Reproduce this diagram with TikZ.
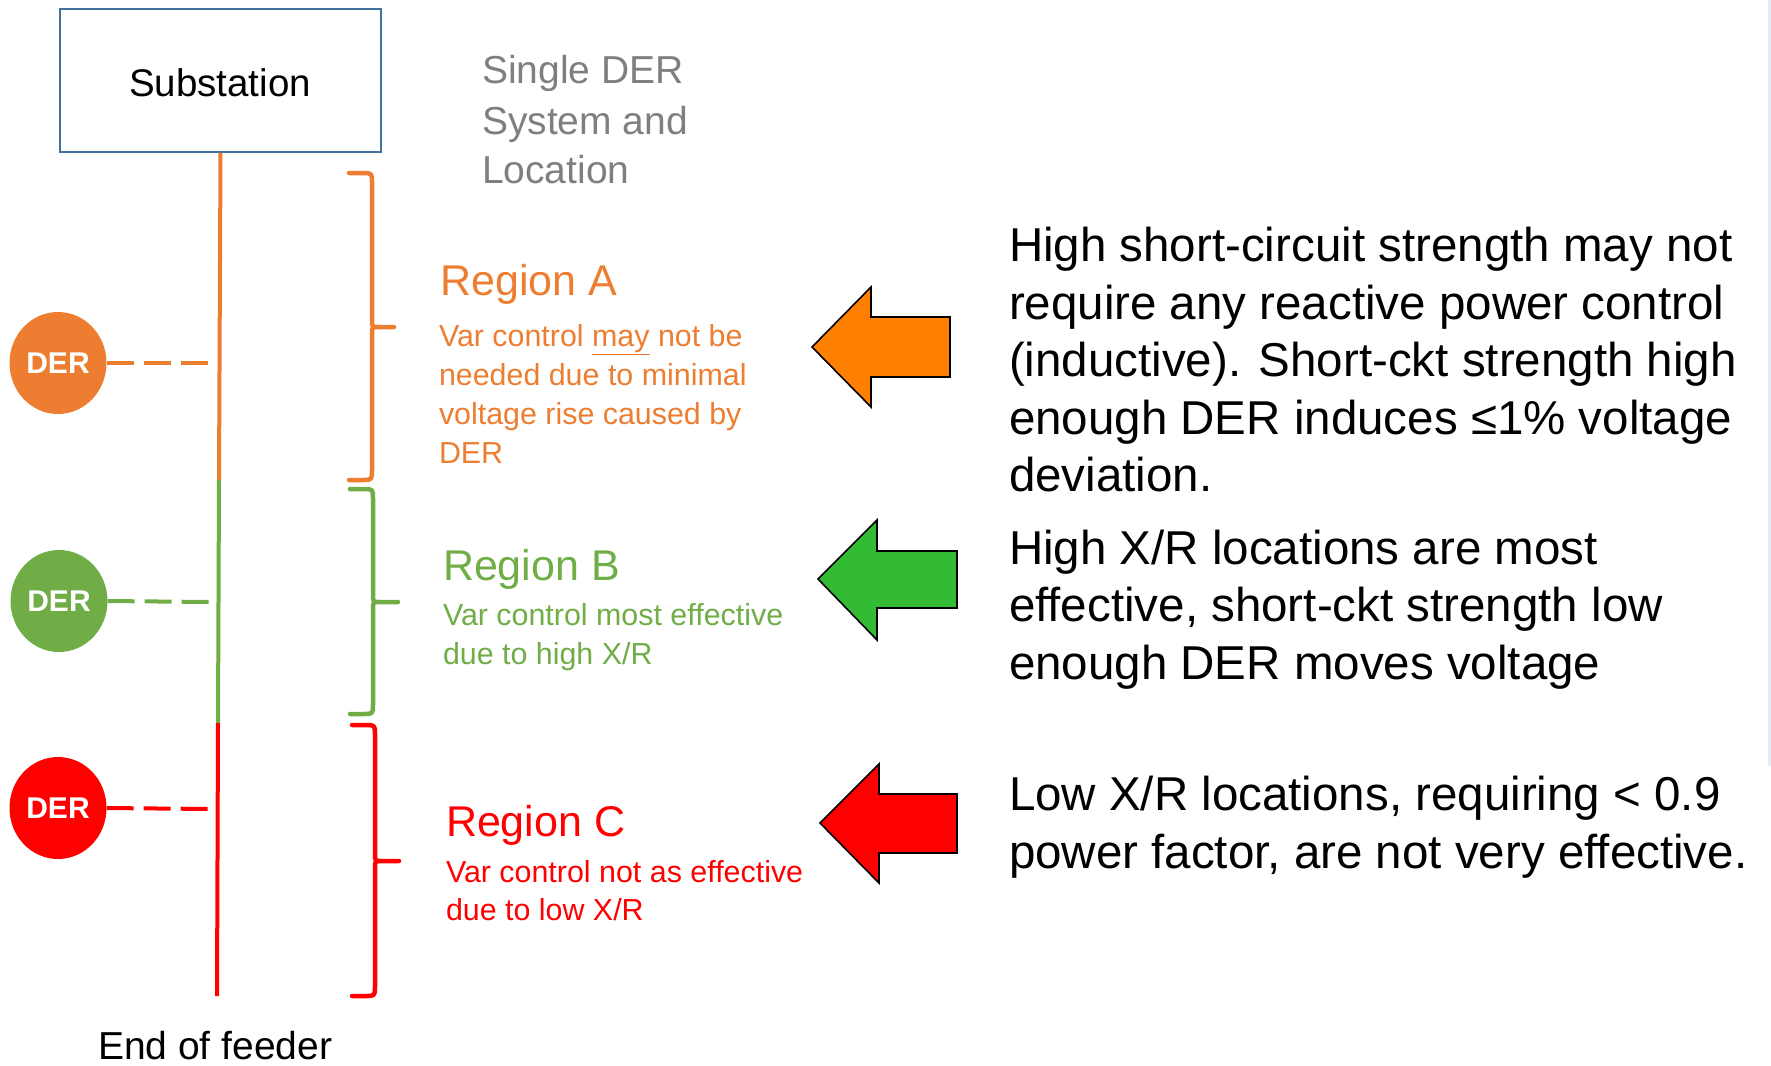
\documentclass[tikz,border=0pt]{standalone}
\usepackage{fontspec}
\setmainfont{Liberation Sans}
\usetikzlibrary{shapes.geometric}
\definecolor{cA}{HTML}{ED7D31}
\definecolor{cB}{HTML}{70AD47}
\definecolor{cC}{HTML}{FF0000}
\definecolor{boxblue}{HTML}{41719C}
\definecolor{graytxt}{HTML}{7F7F7F}
\definecolor{arrA}{HTML}{FF8000}
\definecolor{arrB}{HTML}{33BB33}
\definecolor{arrC}{HTML}{FF0000}
\definecolor{stripc}{HTML}{E4ECF8}
\newcommand{\mybrace}[7]{%
  \draw[bracestyle,#1] (#2,#5) -- (#3-10,#5) .. controls (#3,#5) .. (#3,#5+10)
    -- (#3,#6-7) .. controls (#3,#6) .. (#3+7,#6) -- (#4,#6) -- (#3+7,#6)
    .. controls (#3,#6) .. (#3,#6+7) -- (#3,#7-10) .. controls (#3,#7) .. (#3-10,#7) -- (#2,#7);}
\begin{document}
\begin{tikzpicture}[x=1pt,y=-1pt,
  txt/.style={inner sep=0pt,outer sep=0pt,anchor=base west},
  gtxt/.style={txt,text=graytxt,font=\fontsize{39}{50}\selectfont},
  rtxt/.style={txt,text=black,font=\fontsize{47.5}{57}\selectfont},
  titleA/.style={txt,font=\fontsize{43}{50}\selectfont},
  body/.style={txt,font=\fontsize{30.4}{39}\selectfont},
  der/.style={ellipse,inner sep=0pt,minimum width=97pt,minimum height=102pt,
    text=white,font=\fontsize{30}{31}\selectfont\bfseries},
  feeder/.style={line width=4pt},
  dashline/.style={line width=4pt,dash pattern=on 27pt off 10pt},
  bracestyle/.style={line width=4.5pt,line join=round,line cap=round},
  blockarrow/.style={draw=black,line width=1.6pt,line join=miter}
]
\useasboundingbox (0,0) rectangle (1771,1065);
\fill[stripc] (1768,0) rectangle (1771,766);

% substation
\node[draw=boxblue,line width=1.8pt,minimum width=321pt,minimum height=143pt,inner sep=0pt]
  (sub) at (220.5,80.5) {};
\node[inner sep=0pt,anchor=base,font=\fontsize{38.5}{45}\selectfont] (subt) at (220,96) {Substation};

% feeder
\coordinate (fAB) at (219,480);
\coordinate (fBC) at (218,723);
\coordinate (fend) at (217,996);
\draw[feeder,cA] (sub.south) -- (fAB);
\draw[feeder,cB] (fAB) -- (fBC);
\draw[feeder,cC] (fBC) -- (fend);

% DERs
\node[der,fill=cA] (derA) at (58,363) {DER};
\node[der,fill=cB] (derB) at (59,601) {DER};
\node[der,fill=cC] (derC) at (58,808) {DER};
\coordinate (jA) at (209,363);
\coordinate (jB) at (209,602);
\coordinate (jC) at (209,809);
\draw[dashline,cA] (derA.east) -- (jA);
\draw[dashline,cB] (derB.east) -- (jB);
\draw[dashline,cC] (derC.east) -- (jC);

% braces
\mybrace{cA}{349}{372}{394}{173}{327}{480}
\mybrace{cB}{350}{373}{398}{489}{602}{714}
\mybrace{cC}{352}{375}{399}{725}{861}{996}

% title
\node[gtxt] (s1) at (482,84) {Single DER};
\node[gtxt] (s2) at (482,134) {System and};
\node[gtxt] (s3) at (482,183) {Location};

% region A
\node[titleA,text=cA] (ra) at (440.5,295.5) {Region A};
\node[body,text=cA] (ra1) at (439,346) {Var control \underline{may} not be};
\node[body,text=cA] (ra2) at (439,385) {needed due to minimal};
\node[body,text=cA] (ra3) at (439,424) {voltage rise caused by};
\node[body,text=cA] (ra4) at (439,463) {DER};

% region B
\node[titleA,text=cB] (rb) at (443,580.5) {Region B};
\node[body,text=cB] (rb1) at (443,625) {Var control most effective};
\node[body,text=cB] (rb2) at (443,664) {due to high X/R};

% region C
\node[titleA,text=cC] (rc) at (446,836.5) {Region C};
\node[body,text=cC] (rc1) at (446,882) {Var control not as effective};
\node[body,text=cC] (rc2) at (446,920) {due to low X/R};

% block arrows
\draw[blockarrow,fill=arrA] (812,347) -- (871,287) -- (871,317) -- (950,317) -- (950,377) -- (871,377) -- (871,407) -- cycle;
\draw[blockarrow,fill=arrB] (818,579) -- (877,520) -- (877,551) -- (957,551) -- (957,608) -- (877,608) -- (877,640) -- cycle;
\draw[blockarrow,fill=arrC] (820,823) -- (879,764) -- (879,794) -- (957,794) -- (957,853) -- (879,853) -- (879,883) -- cycle;

% right texts
\node[rtxt] (a1) at (1009,261) {High short-circuit strength may not};
\node[rtxt] (a2) at (1009,319) {require any reactive power control};
\node[rtxt] (a3) at (1009,376) {(inductive). Short-ckt strength high};
\node[rtxt] (a4) at (1009,434) {enough DER induces ≤1\% voltage};
\node[rtxt] (a5) at (1009,491) {deviation.};

\node[rtxt] (b1) at (1009,564) {High X/R locations are most};
\node[rtxt] (b2) at (1009,621) {effective, short-ckt strength low};
\node[rtxt] (b3) at (1009,679) {enough DER moves voltage};

\node[rtxt] (c1) at (1009,810) {Low X/R locations, requiring < 0.9};
\node[rtxt] (c2) at (1009,868) {power factor, are not very effective.};

% end of feeder
\node[txt,font=\fontsize{39}{45}\selectfont] (eof) at (98,1059) {End of feeder};
\end{tikzpicture}
\end{document}
